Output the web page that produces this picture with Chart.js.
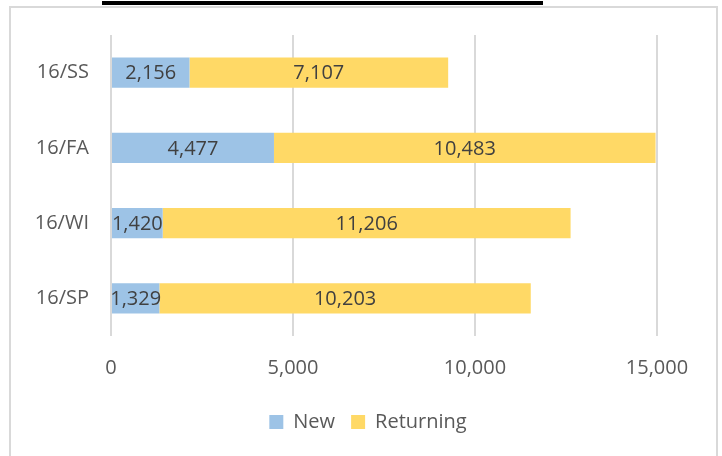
<!DOCTYPE html>
<html>
<head>
<meta charset="utf-8">
<script src="https://cdn.jsdelivr.net/npm/chart.js@4/dist/chart.umd.min.js"></script>
<style>
  html, body { margin: 0; padding: 0; background: #fff; }
  #wrap { width: 722px; height: 456px; position: relative; }
</style>
</head>
<body>
<div id="wrap"><canvas id="myChart" width="722" height="456"></canvas></div>
<script>
const terms = ["16/SS", "16/FA", "16/WI", "16/SP"];
const newStudents = [2156, 4477, 1420, 1329];
const returningStudents = [7107, 10483, 11206, 10203];
const xTicks = [0, 5000, 10000, 15000];

const fmt = v => v.toLocaleString("en-US");

// outer frame plus the cut-off title underline at the top
const framePlugin = {
    id: "frame",
    beforeDraw(chart) {
        const ctx = chart.ctx;
        ctx.save();
        ctx.fillStyle = "#fff";
        ctx.fillRect(0, 0, chart.width, chart.height);
        ctx.strokeStyle = "#d9d9d9";
        ctx.lineWidth = 2;
        ctx.strokeRect(10, 7, 707, 460);
        ctx.fillStyle = "#000";
        ctx.fillRect(102, 1, 441, 4);
        ctx.restore();
    },
    afterLayout(chart) {
        // legend sits centred on the whole frame, not on the plot
        chart.legend.left += 34;
        chart.legend.right += 34;
    }
};

// values written in the middle of each bar segment
const valueLabels = {
    id: "valueLabels",
    afterDatasetsDraw(chart) {
        const ctx = chart.ctx;
        ctx.save();
        ctx.font = "20px 'Open Sans'";
        ctx.fillStyle = "#404040";
        ctx.textAlign = "center";
        ctx.textBaseline = "middle";
        chart.data.datasets.forEach((ds, i) => {
            chart.getDatasetMeta(i).data.forEach((bar, j) => {
                const mid = (bar.x + bar.base) / 2;
                ctx.fillText(fmt(ds.data[j]), mid, bar.y + 1);
            });
        });
        ctx.restore();
    }
};

new Chart(document.getElementById("myChart").getContext("2d"), {
    type: "bar",
    data: {
        labels: terms,
        datasets: [
            {
                label: "New",
                backgroundColor: "#9DC3E6",
                data: newStudents,
            },
            {
                label: "Returning",
                backgroundColor: "#FFD966",
                data: returningStudents,
            }
        ]
    },
    options: {
        indexAxis: "y",
        responsive: false,
        animation: false,
        layout: { padding: { left: 11, right: 65, top: 35, bottom: 14 } },
        datasets: { bar: { categoryPercentage: 0.4, barPercentage: 1 } },
        scales: {
            x: {
                stacked: true,
                min: 0,
                max: 15000,
                afterBuildTicks: s => { s.ticks = xTicks.map(v => ({ value: v })); },
                afterFit: s => { s.height = 60; },
                grid: { color: "#d9d9d9", lineWidth: 2, drawTicks: false },
                border: { display: false },
                ticks: {
                    color: "#595959",
                    font: { family: "'Open Sans'", size: 20 },
                    padding: 20,
                    callback: v => fmt(v),
                },
            },
            y: {
                stacked: true,
                afterFit: s => { s.width = 100; },
                grid: { display: false },
                border: { display: false },
                ticks: {
                    color: "#595959",
                    font: { family: "'Open Sans'", size: 20 },
                    padding: 14,
                },
            }
        },
        plugins: {
            legend: {
                position: "bottom",
                labels: {
                    color: "#595959",
                    font: { family: "'Open Sans'", size: 20 },
                    boxWidth: 14,
                    boxHeight: 14,
                    padding: 16,
                }
            },
            tooltip: { enabled: false },
        }
    },
    plugins: [framePlugin, valueLabels]
});
</script>
</body>
</html>
